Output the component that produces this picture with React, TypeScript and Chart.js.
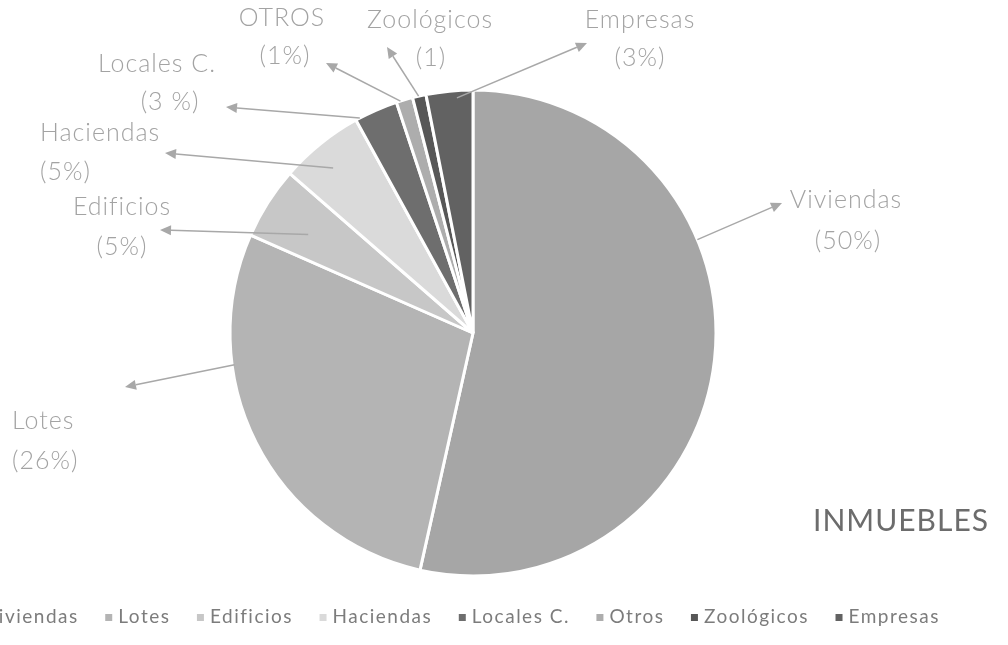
import React, { useEffect, useRef } from "react";
import { Chart, registerables } from "chart.js";

Chart.register(...registerables);

// ---- data ----
const CATEGORIES = ["Viviendas", "Lotes", "Edificios", "Haciendas", "Locales C.", "Otros", "Zoológicos", "Empresas"];
const SHARES = [53.5, 28.1, 4.8, 5.6, 2.9, 1.1, 0.9, 3.1];
const CALLOUT_NAMES = ["Viviendas", "Lotes", "Edificios", "Haciendas", "Locales C.", "OTROS", "Zoológicos", "Empresas"];
const CALLOUT_VALUES = ["(50%)", "(26%)", "(5%)", "(5%)", "(3 %)", "(1%)", "(1)", "(3%)"];
const CHART_TITLE = "INMUEBLES";

// ---- styles ----
const COLORS = ["#a6a6a6", "#b4b4b4", "#c7c7c7", "#dadada", "#6e6e6e", "#adadad", "#575757", "#626262"];
const LABEL_COLOR = "#a3a3a3";
const ARROW_COLOR = "#a8a8a8";
const LEGEND_COLOR = "#7c7c7c";
const TITLE_COLOR = "#6c6c6c";
const FONT = "Lato, 'Open Sans', sans-serif";
const LEGEND_FONT_SIZE = 19;

// ---- layout (page px); canvas is shifted left by SHIFT ----
const SHIFT = 55;
const CANVAS_W = 1115;
type Callout = { from: [number, number]; tip: [number, number]; name: [number, number]; value: [number, number]; align: CanvasTextAlign };
const CALLOUTS: Callout[] = [
  { from: [0.35, 1.0], tip: [782, 203], name: [846, 200], value: [848, 241], align: "center" },
  { from: [0.69, 0.99], tip: [125, 387], name: [12, 421], value: [12, 461], align: "left" },
  { from: [0.41, 0.79], tip: [160, 230], name: [122, 207], value: [122, 247], align: "center" },
  { from: [0.43, 0.89], tip: [165, 153], name: [40, 133], value: [40, 172], align: "left" },
  { from: [0.1, 1.0], tip: [226, 107], name: [157, 64], value: [170, 102], align: "center" },
  { from: [0.25, 1.0], tip: [326, 63], name: [282, 18], value: [285, 56], align: "center" },
  { from: [0.45, 1.0], tip: [387, 47], name: [430, 20], value: [431, 58], align: "center" },
  { from: [0.65, 0.97], tip: [587, 43], name: [640, 20], value: [640, 58], align: "center" },
];

const calloutPlugin = {
  id: "callouts",
  beforeUpdate(chart: any) {
    (chart.ctx as any).letterSpacing = "1.5px";
  },
  beforeDraw(chart: any) {
    (chart.ctx as any).letterSpacing = "1.5px";
  },
  afterDraw(chart: any) {
    const ctx = chart.ctx as CanvasRenderingContext2D;
    const meta = chart.getDatasetMeta(0);
    ctx.save();
    // legend swatches, placed next to the legend texts laid out by Chart.js
    const boxes = chart.legend?.legendHitBoxes || [];
    boxes.forEach((hb: any, i: number) => {
      const textX = hb.left + LEGEND_FONT_SIZE / 2;
      const s = 7;
      ctx.fillStyle = COLORS[i];
      ctx.fillRect(textX - 6 - s, hb.top + hb.height / 2 - s / 2 + 0.5, s, s);
    });

    meta.data.forEach((arc: any, i: number) => {
      const L = CALLOUTS[i];
      if (!L) return;
      const p = arc.getProps(["x", "y", "startAngle", "endAngle", "outerRadius"], true);
      const a = p.startAngle + L.from[0] * (p.endAngle - p.startAngle);
      const r = p.outerRadius * L.from[1];
      const sx = p.x + Math.cos(a) * r;
      const sy = p.y + Math.sin(a) * r;
      const tx = L.tip[0] + SHIFT;
      const ty = L.tip[1];
      const ang = Math.atan2(ty - sy, tx - sx);
      const head = 11;
      const hw = 5;
      const bx = tx - Math.cos(ang) * head;
      const by = ty - Math.sin(ang) * head;
      ctx.strokeStyle = ARROW_COLOR;
      ctx.fillStyle = ARROW_COLOR;
      ctx.lineWidth = 1.5;
      ctx.beginPath();
      ctx.moveTo(sx, sy);
      ctx.lineTo(bx, by);
      ctx.stroke();
      ctx.beginPath();
      ctx.moveTo(tx, ty);
      ctx.lineTo(bx + Math.sin(ang) * hw, by - Math.cos(ang) * hw);
      ctx.lineTo(bx - Math.sin(ang) * hw, by + Math.cos(ang) * hw);
      ctx.closePath();
      ctx.fill();

      (ctx as any).letterSpacing = "1px";
      ctx.font = `300 25px ${FONT}`;
      ctx.fillStyle = LABEL_COLOR;
      ctx.textAlign = L.align;
      ctx.textBaseline = "middle";
      ctx.fillText(CALLOUT_NAMES[i], L.name[0] + SHIFT, L.name[1]);
      ctx.fillText(CALLOUT_VALUES[i], L.value[0] + SHIFT, L.value[1]);
    });
    (ctx as any).letterSpacing = "1px";
    ctx.font = `30px ${FONT}`;
    ctx.fillStyle = TITLE_COLOR;
    ctx.textAlign = "center";
    ctx.textBaseline = "middle";
    ctx.fillText(CHART_TITLE, 901 + SHIFT, 521);
    ctx.restore();
    (ctx as any).letterSpacing = "1.5px";
  },
};

export default function App() {
  const ref = useRef<HTMLCanvasElement | null>(null);
  useEffect(() => {
    if (!ref.current) return;
    const chart = new Chart(ref.current, {
      type: "pie",
      data: {
        labels: CATEGORIES,
        datasets: [
          {
            data: SHARES,
            backgroundColor: COLORS,
            borderColor: "#ffffff",
            borderWidth: 3,
            radius: 243,
          } as any,
        ],
      },
      options: {
        animation: false,
        responsive: true,
        maintainAspectRatio: false,
        events: [],
        layout: { padding: { left: 0, right: 0, top: 88.5, bottom: 8.5 } },
        plugins: {
          tooltip: { enabled: false },
          title: {
            display: true,
            text: " ",
            position: "right",
            fullSize: false,
            padding: 23.5,
            font: { size: 10 },
          },
          legend: {
            display: true,
            position: "bottom",
            align: "start",
            labels: {
              boxWidth: 0,
              boxHeight: 8,
              padding: 30,
              color: LEGEND_COLOR,
              font: { family: FONT, size: LEGEND_FONT_SIZE },
              generateLabels: (c: any) =>
                (Chart as any).overrides.pie.plugins.legend.labels
                  .generateLabels(c)
                  .map((it: any) => ({ ...it, lineWidth: 0, fillStyle: "rgba(0,0,0,0)", strokeStyle: "rgba(0,0,0,0)" })),
            },
          },
        },
      } as any,
      plugins: [calloutPlugin as any],
    });
    return () => chart.destroy();
  }, []);
  return (
    <div style={{ position: "absolute", left: 0, top: 0, width: 1008, height: 645, overflow: "hidden", background: "#fff" }}>
      <div style={{ position: "absolute", left: -SHIFT, top: 0, width: CANVAS_W, height: 645 }}>
        <canvas ref={ref} />
      </div>
    </div>
  );
}
